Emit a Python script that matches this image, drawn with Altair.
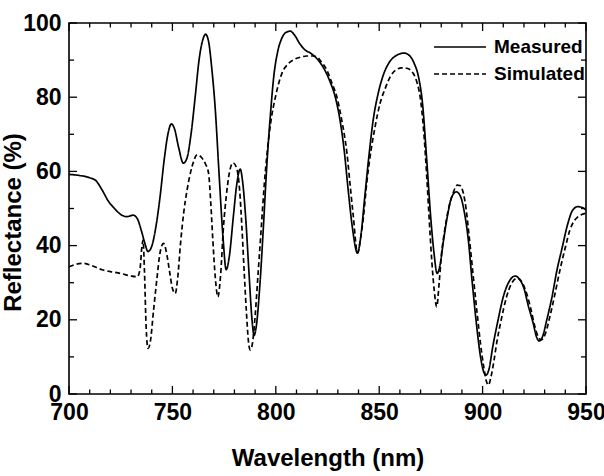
import altair as alt
import pandas as pd

# Measured reflectance spectrum (wavelength in nm, reflectance in %)
meas_wl = [700, 705, 710, 713, 716, 719, 722, 725, 728, 731, 733, 735, 736.5, 738.2, 740, 742, 744, 746, 748,
           749.5, 751, 753, 755.3, 757, 759, 761, 763, 765, 766, 767.5, 769, 770.7, 772.5, 774.5, 776, 777.5,
           779.5, 781, 782.8, 784, 785.5, 787, 788.5, 789.5, 790.5, 792.5, 794, 795.7, 797.5, 799, 801, 803,
           805, 807, 809, 811.5, 814, 817, 820, 823, 826, 829, 831, 833, 835, 837, 839.5, 841, 843, 845, 847,
           849.5, 852, 855, 858.5, 862, 865, 867, 869, 871, 873, 875, 876.5, 878, 879.5, 881, 883, 885, 887.3,
           889.5, 891, 893, 895, 897, 899, 900.5, 901.7, 903, 905, 907.5, 910, 913, 915.7, 918, 920, 922,
           924.5, 926, 927.4, 929, 931, 933.5, 936, 938.5, 941, 943.5, 946, 948.5, 950]
meas_r = [59.2, 58.9, 58.3, 57.5, 55, 52, 50, 48.4, 47.8, 48.2, 47.3, 44, 41, 38.4, 39.8, 45, 53, 63, 70.5,
          72.8, 71.5, 66.5, 62.2, 63.5, 70, 80, 90.5, 96, 97, 95, 88, 77, 60, 42, 33.5, 37,
          48, 56, 60.6, 57, 47, 33, 20, 15.8, 18, 31, 45, 62, 76, 85.5, 92.5, 96,
          97.5, 97.8, 96.8, 94.5, 92.8, 91.8, 90.3, 88, 84.5, 79.5, 74, 66, 55, 45, 38, 42, 53, 64, 73.5,
          81, 86, 89.5, 91.3, 91.9, 91, 89, 85.5, 78, 63, 47, 38, 32.5, 35, 41, 48, 53, 54.5,
          53, 49.5, 42, 30, 19, 10, 6, 5.1, 6.5, 13, 20, 26.2, 30.5, 31.8, 30.8, 28.5, 24,
          19, 15.5, 14.3, 15.5, 19.9, 26, 33.5, 39.5, 45.5, 49.5, 50.5, 50.2, 49.5]

# Simulated reflectance spectrum
sim_wl = [700, 703, 707, 711, 716, 720, 725, 730, 733, 734.3, 735.3, 735.8, 736.5, 737.3, 738.2, 739.3, 740.9,
          742.5, 744, 745.7, 747, 748.5, 750, 751.4, 752.5, 754, 755.5, 757.1, 759.5, 762, 764, 766, 767.5,
          768.5, 769.5, 770.8, 772, 773.3, 774.7, 776, 777.5, 779.3, 781, 782.5, 783.6, 784.8, 785.8, 786.8,
          787.6, 788.5, 790, 791.5, 793, 794.5, 796, 797.5, 800, 803, 806, 809, 812, 815, 818, 820, 822,
          824.7, 827, 829.5, 832, 834.4, 836, 837.5, 839.5, 841, 842.4, 844, 845.6, 848, 850.4, 853, 855.3,
          858, 861, 863.3, 866.5, 868.5, 869.8, 871.5, 873, 874.3, 875.4, 876.6, 877.8, 879, 880, 881.5,
          883.4, 885.5, 887.8, 889, 890.7, 892, 893.5, 895.5, 897.5, 899, 900.5, 901.8, 902.8, 904, 905.5,
          906.8, 909, 911.6, 914, 916.8, 919, 921.3, 923.5, 925.3, 927, 928.5, 930.5, 932.5, 935, 937.4,
          940, 942.2, 944.5, 946.2, 948, 950]
sim_r = [34.3, 34.9, 35.2, 34.6, 33.5, 33, 32.5, 31.8, 31.6, 33.5, 40, 41.5, 33, 18, 12.3, 14, 22.6,
         31, 38, 40.6, 38.5, 33.5, 28.5, 27.1, 31, 41, 49, 55, 61.3, 64.5, 63.8, 62, 59.5,
         52, 42, 31, 26.2, 32, 45.1, 53, 59.5, 62.3, 61, 55, 45.1, 32, 22, 14,
         11.9, 13, 21, 33, 45, 57, 66, 73, 80.5, 86.5, 89, 90.2, 90.8, 91.1, 91.1, 90.8, 89.5,
         87.3, 84, 80.1, 73.5, 64.9, 56, 47.8, 38, 42, 47.8, 57, 64, 72, 78.3, 82.5, 85.5,
         87.3, 87.9, 87.8, 86.4, 83.5, 80.1, 71, 58.6, 46, 36.1, 28, 23.5, 30, 37, 43.5,
         49.6, 53.8, 56.3, 56.2, 54.1, 50, 42.5, 31.6, 21, 13.5, 7.5, 3.5, 2.4, 4.5, 9,
         13.7, 20, 26.2, 29.8, 31.2, 30.2, 27.1, 22.5, 18.1, 15.3, 14.6, 16.5, 20.8, 27, 33.4,
         39.5, 44.2, 46.8, 47.8, 48.4, 48.7]

series_names = ["Measured", "Simulated"]

# Axis tick positions
x_major = [700, 750, 800, 850, 900, 950]
x_minor = [v for v in range(700, 951, 10) if v not in x_major]
y_major = [0, 20, 40, 60, 80, 100]
y_minor = [10, 30, 50, 70, 90]

W, H = 517, 371
FONT = "Liberation Sans"

spectra = pd.concat([
    pd.DataFrame({"wl": meas_wl, "r": meas_r, "series": series_names[0]}),
    pd.DataFrame({"wl": sim_wl, "r": sim_r, "series": series_names[1]}),
])

x_scale = alt.Scale(domain=[700, 950], nice=False, zero=False)
y_scale = alt.Scale(domain=[0, 100], nice=False, zero=False)

lines = alt.Chart(spectra).mark_line(
    color="black", strokeWidth=1.7, interpolate="monotone"
).encode(
    x=alt.X("wl:Q", scale=x_scale, title="Wavelength (nm)",
            axis=alt.Axis(values=x_major, format="d", ticks=False, domain=False, grid=False,
                          labelFont=FONT, labelFontWeight="bold", labelFontSize=23,
                          labelColor="black", labelPadding=7, labelFlush=False,
                          titleFont=FONT, titleFontWeight="bold", titleFontSize=24,
                          titleColor="black", titleBaseline="alphabetic", titleY=71)),
    y=alt.Y("r:Q", scale=y_scale, title="Reflectance (%)",
            axis=alt.Axis(values=y_major, format="d", ticks=False, domain=False, grid=False,
                          labelFont=FONT, labelFontWeight="bold", labelFontSize=23,
                          labelColor="black", labelPadding=8, labelFlush=False,
                          titleFont=FONT, titleFontWeight="bold", titleFontSize=24,
                          titleColor="black", titleAngle=270, titleBaseline="alphabetic",
                          titleX=-49, titleY=199, titleAlign="center")),
    # Legend key: a horizontal stroke twice as long as the unit symbol box
    strokeDash=alt.StrokeDash(
        "series:N",
        scale=alt.Scale(domain=series_names, range=[[1, 0], [5, 3]]),
        legend=alt.Legend(title=None, orient="none", legendX=377, legendY=10,
                          symbolType="M-2,0H2", symbolSize=676, symbolStrokeWidth=1.7,
                          symbolStrokeColor="black", labelFont=FONT, labelFontWeight="bold",
                          labelFontSize=19, labelColor="black", labelOffset=20,
                          rowPadding=3, padding=0),
    ),
)


def tick_layer(values, channel, length, side):
    """Inward-pointing tick marks along one edge of the frame."""
    df = pd.DataFrame({"v": values})
    base = alt.Chart(df).mark_rule(color="black", strokeWidth=1.3)
    if channel == "x":
        y0 = H if side == "bottom" else 0
        y1 = H - length if side == "bottom" else length
        return base.encode(x=alt.X("v:Q", scale=x_scale), y=alt.value(y0), y2=alt.value(y1))
    x0 = 0 if side == "left" else W
    x1 = length if side == "left" else W - length
    return base.encode(y=alt.Y("v:Q", scale=y_scale), x=alt.value(x0), x2=alt.value(x1))


ticks = [
    tick_layer(x_major, "x", 8, "bottom"), tick_layer(x_minor, "x", 4.5, "bottom"),
    tick_layer(x_major, "x", 8, "top"), tick_layer(x_minor, "x", 4.5, "top"),
    tick_layer(y_major, "y", 8, "left"), tick_layer(y_minor, "y", 5, "left"),
    tick_layer(y_major, "y", 8, "right"), tick_layer(y_minor, "y", 5, "right"),
]

chart = alt.layer(lines, *ticks).properties(
    width=W, height=H,
    autosize=alt.AutoSizeParams(type="none"),
    padding={"left": 69, "top": 23, "right": 18, "bottom": 82},
    background="white",
).configure_view(
    stroke="black", strokeWidth=1.6
)

chart.save("out.html", embed_options={"renderer": "svg", "actions": False})
